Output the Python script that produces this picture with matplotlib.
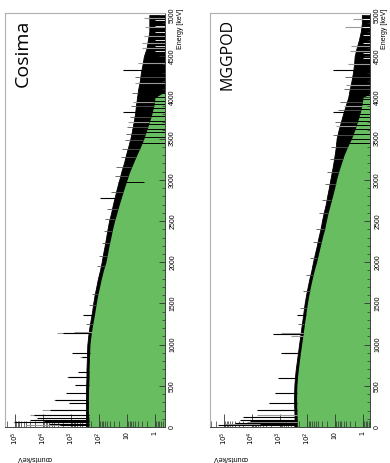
import numpy as np
import matplotlib.pyplot as plt
from matplotlib.ticker import FixedLocator, FixedFormatter, MultipleLocator

plt.rcParams['font.family'] = ['Liberation Sans', 'DejaVu Sans']

GREEN = '#68bd60'

# energy grid of the spectrum envelope (keV)
energy = [0, 100, 200, 300, 400, 500, 600, 700, 800, 900,
          1000, 1100, 1200, 1300, 1400, 1500, 1600, 1700, 1800, 1900,
          2000, 2100, 2200, 2300, 2400, 2500, 2600, 2700, 2800, 2900,
          3000, 3100, 3200, 3300, 3400, 3500, 3600, 3700, 3800, 3900,
          4000, 4100, 4200, 4300, 4400, 4500, 4600, 4700, 4800, 4900, 5000]

# Cosima: upper edge of the fluctuating spectrum and level where the fill is solid
cosima_hi = [290, 290, 295, 295, 295, 290, 282, 282, 275, 270,
             263, 245, 224, 200, 178, 162, 145, 126, 110, 93,
             81, 72, 63, 56, 50, 44, 37, 32, 27, 23,
             19, 16, 13, 11, 9.1, 7.6, 6.6, 5.8, 5.2, 4.8,
             4.4, 4.0, 3.5, 3.2, 2.8, 2.5, 2.0, 1.8, 1.6, 1.6, 1.6]
cosima_lo = [235, 235, 240, 240, 240, 235, 228, 228, 222, 218,
             212, 196, 178, 158, 140, 126, 112, 96, 83, 70,
             57, 50, 44, 38, 33, 28, 23, 19, 15.5, 12.5,
             10, 8, 6, 4.5, 3.3, 2.5, 2.0, 1.6, 1.3, 1.1,
             1.0, 0.3, 0.3, 0.3, 0.3, 0.3, 0.3, 0.3, 0.3, 0.3, 0.3]

# MGGPOD
mggpod_hi = [290, 290, 295, 302, 302, 295, 282, 263, 240, 219,
             200, 182, 166, 151, 138, 126, 112, 98, 85, 72,
             63, 54, 46, 40, 34, 30, 26, 22, 19.5, 17,
             15, 13.2, 11.7, 10.5, 9.5, 8.9, 7.6, 6.3, 5.2, 4.2,
             3.4, 3.0, 2.6, 2.3, 2.1, 2.0, 1.7, 1.4, 1.2, 1.1, 1.1]
mggpod_lo = [235, 235, 240, 245, 245, 240, 228, 212, 195, 178,
             162, 147, 134, 122, 111, 100, 89, 78, 67, 57,
             47, 40, 34, 29, 24, 21, 18, 15, 12.5, 10.5,
             9.0, 7.5, 6.0, 4.8, 3.6, 2.6, 2.0, 1.6, 1.3, 1.1,
             1.0, 0.3, 0.3, 0.3, 0.3, 0.3, 0.3, 0.3, 0.3, 0.3, 0.3]

# line peaks: energy (keV), counts/keV
cosima_peak_e = [20, 35, 55, 70, 85, 105, 146, 206, 287, 328, 417, 510, 611, 671, 846, 902, 1137, 1359, 2775, 3827, 4333]
cosima_peak_c = [2500, 6000, 110000, 9000, 30000, 17000, 22000, 5600, 1200, 3700, 1500, 700, 1250, 550, 420, 930, 2000, 360, 90, 14, 14]
cosima_grey_e = [30, 60, 146, 206, 328, 611, 846, 1145, 1155, 3700, 3950, 4180, 4420, 4600, 4660, 4740, 4858, 4960]
cosima_grey_c = [40000, 20000, 30000, 11000, 4200, 1400, 500, 3100, 800, 9, 6, 5, 4, 3, 3, 2.5, 2.2, 2.5]

mggpod_peak_e = [20, 35, 50, 70, 85, 125, 206, 288, 409, 591, 898, 1125, 1359, 3827, 4333]
mggpod_peak_c = [160000, 5000, 40000, 12000, 26000, 20000, 6600, 2500, 1480, 1120, 890, 1700, 240, 12, 12]
mggpod_grey_e = [40, 60, 146, 210, 898, 1105, 1140, 3650, 3900, 4150, 4400, 4560, 4620, 4858, 4950]
mggpod_grey_c = [90000, 15000, 6600, 2000, 700, 400, 900, 9, 5, 4, 3.5, 3, 2.6, 4.5, 2.2]

# small fluctuations sticking out of the continuum edge
cosima_small_e = [1250, 1480, 1620, 1950, 2080, 2230, 2380, 2520, 2650, 2850, 3050,
                  3150, 3280, 3380, 3480, 3560, 3640, 3760, 3900, 4050, 4250]
cosima_small_c = [290, 230, 180, 120, 100, 80, 68, 60, 50, 38, 28,
                  24, 17, 15, 12, 11, 10, 8, 7, 6.5, 5]
mggpod_small_e = [1250, 1450, 1650, 1850, 2050, 2250, 2400, 2600, 2750, 2950,
                  3100, 3250, 3400, 3550, 3700, 3850, 3950, 4100, 4250]
mggpod_small_c = [220, 180, 140, 110, 80, 62, 48, 37, 30, 24,
                  20, 16, 14, 12.5, 10, 8, 6.5, 5, 4.5]

# dips of the spectrum at high energy: energy (keV), counts/keV reached
cosima_dip_e = [2970, 3450, 3520, 3580, 3620, 3680, 3720, 3780, 3820, 3870, 3920, 3960, 4010, 4060]
cosima_dip_c = [2.5, 0.3, 0.3, 0.3, 0.3, 0.3, 0.3, 0.3, 0.3, 0.3, 0.3, 0.3, 0.3, 0.3]
mggpod_dip_e = [3450, 3500, 3560, 3620, 3660, 3720, 3760, 3800, 3860, 3920, 3980, 4030, 4070]
mggpod_dip_c = [0.3, 0.3, 0.3, 0.3, 0.3, 0.3, 0.3, 0.3, 0.3, 0.3, 0.3, 0.3, 0.3]

# empty stretches in the black top part (white streaks)
cosima_empty_e = [4560, 4630, 4700, 4790, 4870, 4940]
mggpod_empty_e = [4480, 4540, 4660, 4760, 4850, 4950]

e_ticks = [0, 500, 1000, 1500, 2000, 2500, 3000, 3500, 4000, 4500, 5000]
c_ticks = [1, 10, 100, 1000, 10000, 100000]
c_labels = ['1', '10', '$10^2$', '$10^3$', '$10^4$', '$10^5$']


def draw_panel(ax, title, hi, lo, pk_e, pk_c, gr_e, gr_c, sm_e, sm_c,
               dip_e, dip_c, empty_e, xlim, title_size):
    ax.set_xscale('log')
    ax.set_xlim(*xlim)
    ax.set_ylim(0, 5025)
    far = xlim[1] * 0.5

    # black spectrum band down to the axis, green solid fill on top
    ax.fill_betweenx(energy, hi, far, color='black', lw=0.6, zorder=1)
    ax.fill_betweenx(energy, lo, far, color=GREEN, lw=0, zorder=1.5)

    base_sm = np.interp(sm_e, energy, lo)
    ax.hlines(sm_e, base_sm, sm_c, color='#555555', lw=0.6, zorder=2)
    base_gr = np.interp(gr_e, energy, lo)
    ax.hlines(gr_e, base_gr, gr_c, color='#9a9a9a', lw=0.8, zorder=2)
    base_pk = np.interp(pk_e, energy, lo)
    ax.hlines(pk_e, base_pk, pk_c, color='black', lw=0.8, zorder=3)
    base_dip = np.interp(dip_e, energy, hi)
    ax.hlines(dip_e, base_dip, dip_c, color='black', lw=0.7, zorder=2)
    ax.hlines(empty_e, 1.0, far, color='white', lw=0.6, zorder=2)

    # energy axis on the right
    ax.yaxis.tick_right()
    ax.yaxis.set_major_locator(FixedLocator(e_ticks))
    ax.yaxis.set_minor_locator(MultipleLocator(100))
    ax.tick_params(axis='y', which='major', direction='in', length=4.3, width=0.6,
                   labelsize=5, labelrotation=90, pad=3, color='#333333')
    ax.tick_params(axis='y', which='minor', direction='in', length=2.2, width=0.5, color='#333333')
    for lab in ax.get_yticklabels():
        lab.set_va('center')

    # counts axis at the bottom
    ax.xaxis.set_major_locator(FixedLocator(c_ticks))
    ax.xaxis.set_major_formatter(FixedFormatter(c_labels))
    ax.tick_params(axis='x', which='major', direction='in', length=9.4, width=0.6,
                   labelsize=5, labelrotation=90, pad=3, color='#333333')
    ax.tick_params(axis='x', which='minor', direction='in', length=4.5, width=0.5, color='#333333')

    for side in ['left', 'top']:
        ax.spines[side].set_color('#b0b0b0')
        ax.spines[side].set_linewidth(0.8)
    for side in ['bottom', 'right']:
        ax.spines[side].set_color('#444444')
        ax.spines[side].set_linewidth(0.7)

    ax.text(0.11, 0.985, title, transform=ax.transAxes, rotation=90,
            ha='center', va='top', fontsize=title_size,
            family=['Open Sans', 'DejaVu Sans'])


fig = plt.figure(figsize=(3.9, 4.63), dpi=100)
ax1 = fig.add_axes([5 / 390, 1 - 427 / 463, 160 / 390, 414 / 463])
ax2 = fig.add_axes([210 / 390, 1 - 427 / 463, 160 / 390, 414 / 463])

draw_panel(ax1, 'Cosima', cosima_hi, cosima_lo, cosima_peak_e, cosima_peak_c,
           cosima_grey_e, cosima_grey_c, cosima_small_e, cosima_small_c,
           cosima_dip_e, cosima_dip_c, cosima_empty_e, (2.3e5, 0.44), 14)
draw_panel(ax2, 'MGGPOD', mggpod_hi, mggpod_lo, mggpod_peak_e, mggpod_peak_c,
           mggpod_grey_e, mggpod_grey_c, mggpod_small_e, mggpod_small_c,
           mggpod_dip_e, mggpod_dip_c, mggpod_empty_e, (3.2e5, 0.56), 11.5)

for xc in [181, 384]:
    fig.text(xc / 390, 1 - 9 / 463, 'Energy [keV]', rotation=90, ha='center', va='top', fontsize=5)
for xc in [34, 230]:
    fig.text(xc / 390, 1 - 458 / 463, 'counts/keV', rotation=180, ha='center', va='center', fontsize=5)

fig.savefig('out.png', dpi=100)
